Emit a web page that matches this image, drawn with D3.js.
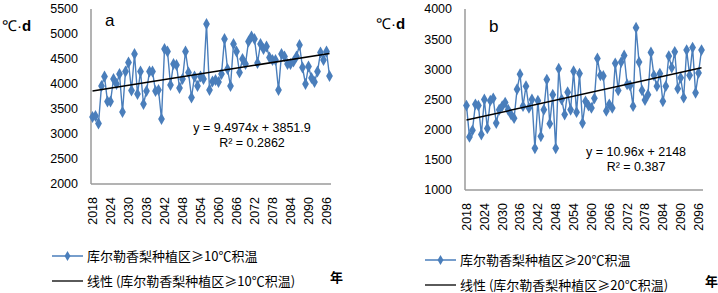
<!DOCTYPE html>
<html>
<head>
<meta charset="utf-8">
<script src="https://cdn.jsdelivr.net/npm/d3@7"></script>
<style>
body { margin: 0; background: #fff; }
text { font-family: "Liberation Sans", Arial, sans-serif; }
.cjk { font-family: "Noto Sans CJK SC", sans-serif; }
</style>
</head>
<body>
<svg id="chart" width="718" height="293"></svg>
<script>
const years = d3.range(2018, 2098)
const yearLabels = d3.range(2018, 2097, 6)

const accum10 = [3340, 3360, 3210, 3960, 4150, 3650, 3650, 4100, 4000, 4200,
	3440, 4250, 4430, 3870, 4600, 3800, 4250, 3600, 3860, 4250,
	4250, 3860, 3880, 3300, 4700, 4650, 3980, 4400, 4380, 3920,
	4100, 4650, 4230, 3730, 4150, 3960, 4150, 4100, 5200, 3880,
	4050, 4080, 4040, 4200, 4900, 4300, 3960, 4800, 4650, 4230,
	4500, 4400, 4850, 4950, 4900, 4420, 4800, 4700, 4750, 4530,
	4480, 4480, 3880, 4600, 4550, 4400, 4400, 4450, 4550, 4780,
	4330, 4000, 4350, 4120, 4040, 4250, 4630, 4480, 4650, 4160]

const accum20 = [2400, 1880, 1990, 2420, 2400, 1920, 2500, 2020, 2480, 2520,
	2110, 2330, 2390, 2450, 2330, 2250, 2190, 2670, 2920, 2390,
	2720, 2360, 2500, 1690, 2480, 1890, 2330, 2830, 2100, 2580,
	1690, 3010, 2500, 2250, 2620, 2330, 2970, 2290, 2930, 2110,
	2470, 2400, 2360, 2520, 3180, 2900, 2890, 2310, 2420, 2360,
	3100, 2650, 3120, 3230, 2750, 2730, 2390, 3690, 3120, 2650,
	2490, 2580, 3280, 2900, 2720, 2930, 2470, 2720, 3220, 3030,
	3290, 2680, 2860, 2530, 3320, 2900, 3360, 2610, 2940, 3320]

// trend line coefficients (slope, intercept) printed on the chart
const trend10 = [9.4974, 3851.9]
const trend20 = [10.96, 2148]
const r2_10 = '0.2862', r2_20 = '0.387'

const yTicks10 = d3.range(2000, 5501, 500)
const yTicks20 = d3.range(1000, 4001, 500)

const blue = '#4a7ebb'
const svg = d3.select('#chart')

function diamond(sel, size) {
	return sel.attr('d', d3.symbol().type(d3.symbolDiamond).size(size))
}

function panel(opt) {
	const g = svg.append('g')

	const x = d3.scalePoint().domain(years).range([opt.x0, opt.x1]).padding(0.5)
	const y = d3.scaleLinear().domain(opt.domain).range([opt.y0, 9])

	// y labels
	g.selectAll('.yl')
	.data(opt.ticks)
	.join('text')
	.attr('x', opt.x0 - 13)
	.attr('y', d => y(d))
	.attr('dy', '0.35em')
	.attr('text-anchor', 'end')
	.style('font-size', '12.5px')
	.text(d => d)

	// x labels
	g.selectAll('.xl')
	.data(yearLabels)
	.join('text')
	.attr('transform', d => `translate(${x(d)}, ${opt.y0 + 13}) rotate(-90)`)
	.attr('dy', '0.35em')
	.attr('text-anchor', 'end')
	.style('font-size', '12.5px')
	.text(d => d)

	// axis lines
	g.append('line')
	.attr('x1', opt.x0).attr('x2', opt.x0)
	.attr('y1', 9).attr('y2', opt.y0)
	.style('stroke', '#9a9a9a').style('stroke-width', 1.5)
	g.append('line')
	.attr('x1', opt.x0).attr('x2', opt.x1)
	.attr('y1', opt.y0).attr('y2', opt.y0)
	.style('stroke', '#9a9a9a').style('stroke-width', 1.5)

	// data
	const line = d3.line().x((d, i) => x(years[i])).y(d => y(d))
	g.append('path')
	.attr('d', line(opt.values))
	.style('fill', 'none').style('stroke', blue).style('stroke-width', 1.4)

	g.selectAll('.pt')
	.data(opt.values)
	.join('path')
	.call(diamond, 40)
	.attr('transform', (d, i) => `translate(${x(years[i])}, ${y(d)})`)
	.style('fill', blue)

	// trend
	const t = opt.trend
	g.append('line')
	.attr('x1', x(years[0])).attr('y1', y(t[0] * 1 + t[1]))
	.attr('x2', x(years[years.length - 1])).attr('y2', y(t[0] * years.length + t[1]))
	.style('stroke', '#000').style('stroke-width', 1.5)

	g.append('text')
	.attr('x', opt.eqX).attr('y', opt.eqY)
	.attr('text-anchor', 'middle')
	.style('font-size', '12.5px')
	.text(`y = ${t[0]}x + ${t[1]}`)
	g.append('text')
	.attr('x', opt.eqX).attr('y', opt.eqY + 15)
	.attr('text-anchor', 'middle')
	.style('font-size', '12.5px')
	.text(`R² = ${opt.r2}`)

	// unit and letter
	const u = g.append('text')
	.attr('x', opt.unitX).attr('y', opt.unitY)
	.style('font-size', '15px')
	u.append('tspan').text('℃·')
	u.append('tspan').style('font-weight', 'bold').text('d')

	g.append('text')
	.attr('x', opt.letterX).attr('y', opt.letterY)
	.style('font-size', '17px')
	.text(opt.letter)

	// legend
	const lg = g.append('g')
	lg.append('line')
	.attr('x1', opt.legX).attr('x2', opt.legX + 31)
	.attr('y1', opt.legY).attr('y2', opt.legY)
	.style('stroke', blue).style('stroke-width', 1.5)
	lg.append('path')
	.call(diamond, 30)
	.attr('transform', `translate(${opt.legX + 15.5}, ${opt.legY})`)
	.style('fill', blue)
	lg.append('text')
	.attr('class', 'cjk')
	.attr('x', opt.legX + 35).attr('y', opt.legY)
	.attr('dy', '0.35em')
	.style('font-size', '13px')
	.text(opt.name)

	lg.append('line')
	.attr('x1', opt.legX).attr('x2', opt.legX + 31)
	.attr('y1', opt.legY + 25).attr('y2', opt.legY + 25)
	.style('stroke', '#000').style('stroke-width', 1.3)
	lg.append('text')
	.attr('class', 'cjk')
	.attr('x', opt.legX + 35).attr('y', opt.legY + 25)
	.attr('dy', '0.35em')
	.style('font-size', '13px')
	.text(`线性 (${opt.name})`)

	g.append('text')
	.attr('class', 'cjk')
	.attr('x', opt.nianX).attr('y', opt.legY + 21)
	.attr('dy', '0.35em')
	.style('font-size', '13px').style('font-weight', 'bold')
	.text('年')
}

panel({
	x0: 91, x1: 331, y0: 184, domain: [2000, 5500], ticks: yTicks10,
	values: accum10, trend: trend10, r2: r2_10,
	eqX: 252, eqY: 132, unitX: 2, unitY: 31, letterX: 105, letterY: 26, letter: 'a',
	legX: 52, legY: 256, nianX: 330, name: '库尔勒香梨种植区≥10℃积温'
})

panel({
	x0: 465, x1: 703, y0: 190, domain: [1000, 4000], ticks: yTicks20,
	values: accum20, trend: trend20, r2: r2_20,
	eqX: 636, eqY: 156, unitX: 376, unitY: 29, letterX: 489, letterY: 32, letter: 'b',
	legX: 425, legY: 260, nianX: 705, name: '库尔勒香梨种植区≥20℃积温'
})
</script>
</body>
</html>
